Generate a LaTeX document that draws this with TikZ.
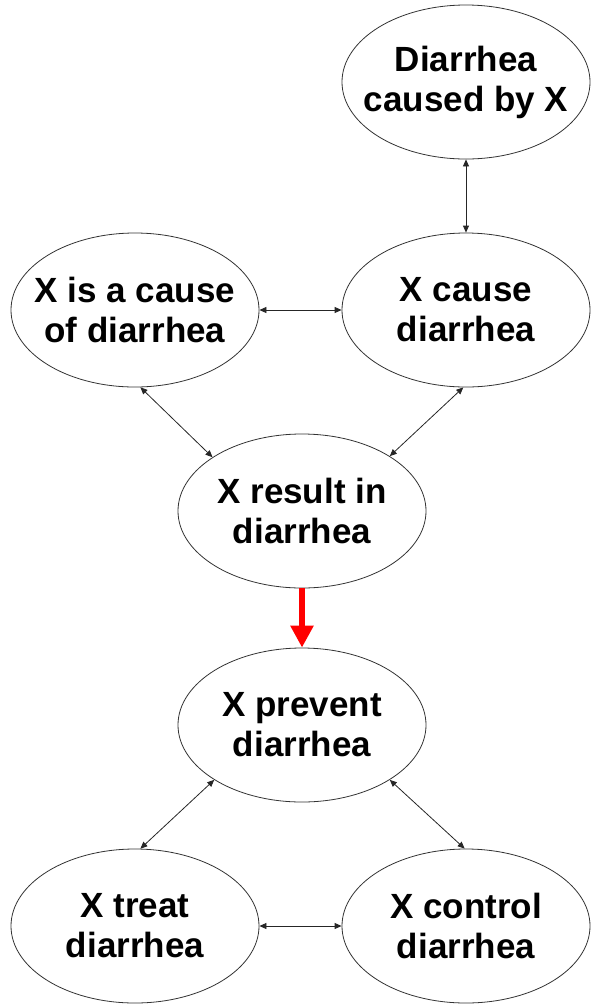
\documentclass[tikz,border=0pt]{standalone}
\usepackage{fontspec}
\setmainfont{Liberation Sans}
\usetikzlibrary{arrows.meta,shapes.geometric}
\tikzset{
  concept/.style={ellipse, draw=black!80, line width=0.8pt, fill=white,
    minimum width=248pt, minimum height=154pt, inner xsep=-18pt, inner ysep=0pt,
    align=center, font=\bfseries\fontsize{35}{40}\selectfont},
  link/.style={line width=0.8pt, draw=black!85,
    {Triangle[length=7pt,width=6pt]}-{Triangle[length=7pt,width=6pt]}},
  implies/.style={line width=6pt, draw=red, -{Triangle[length=22pt,width=22pt]}}
}
\begin{document}
\begin{tikzpicture}[x=1pt,y=-1pt]
  \useasboundingbox (0,0) rectangle (592,1005);
  % concept nodes
  \node[concept] (causedby) at (466,82)  {Diarrhea\\caused by X};
  \node[concept] (isacause) at (135,310) {X is a cause\\of diarrhea};
  \node[concept] (cause)    at (466,310) {X cause\\diarrhea};
  \node[concept] (result)   at (302,511) {X result in\\diarrhea};
  \node[concept] (prevent)  at (302,725) {X prevent\\diarrhea};
  \node[concept] (treat)    at (135,926) {X treat\\diarrhea};
  \node[concept] (control)  at (466,926) {X control\\diarrhea};
  % synonym links
  \draw[link] (causedby.south) -- (cause.north);
  \draw[link] (isacause.east) -- (cause.west);
  \draw[link] (isacause.-86) -- (result.149);
  \draw[link] (cause.-92) -- (result.32);
  \draw[link] (prevent.212) -- (treat.86);
  \draw[link] (prevent.-32) -- (control.91);
  \draw[link] (treat.east) -- (control.west);
  % antonym relation
  \draw[implies] (result.south) -- (prevent.north);
\end{tikzpicture}
\end{document}
